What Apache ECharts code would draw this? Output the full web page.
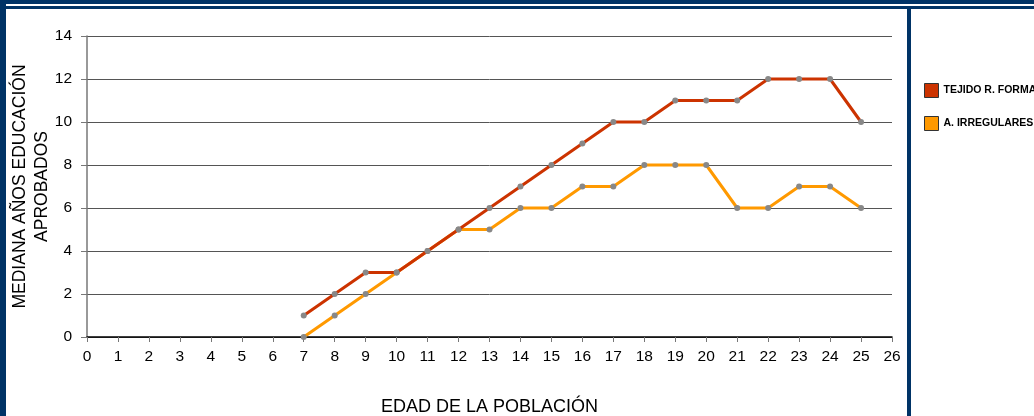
<!DOCTYPE html>
<html><head><meta charset="utf-8">
<script src="https://cdn.jsdelivr.net/npm/echarts@6/dist/echarts.min.js"></script>
<style>html,body{margin:0;padding:0;background:#fff}#c{width:1034px;height:416px}</style>
</head><body><div id="c"></div>
<script>
const ages = [7,8,9,10,11,12,13,14,15,16,17,18,19,20,21,22,23,24,25];
const formal = [1,2,3,3,4,5,6,7,8,9,10,10,11,11,11,12,12,12,10];
const irregulares = [0,1,2,3,4,5,5,6,6,7,7,8,8,8,6,6,7,7,6];
const seriesNames = ['TEJIDO R. FORMAL','A. IRREGULARES'];
const yName = 'MEDIANA AÑOS EDUCACIÓN\nAPROBADOS';
const xName = 'EDAD DE LA POBLACIÓN';

const chart = echarts.init(document.getElementById('c'));
const font = 'Liberation Sans, Arial, sans-serif';
const mk = (vals) => ages.map((a,i)=>[a, vals[i]]);
chart.setOption({
  animation:false,
  textStyle:{fontFamily:font},
  grid:{left:87, right:1034-892, top:36, bottom:416-337, containLabel:false, outerBoundsMode:'none'},
  legend:{
    orient:'vertical', left:919, top:78, itemWidth:14, itemHeight:14, itemGap:18,
    icon:'rect',
    textStyle:{fontSize:10.5, fontWeight:'bold', color:'#000', fontFamily:font},
    data:[
      {name:seriesNames[0], itemStyle:{color:'#CC3300', borderColor:'#333', borderWidth:1}},
      {name:seriesNames[1], itemStyle:{color:'#FF9900', borderColor:'#333', borderWidth:1}}
    ]
  },
  xAxis:{
    type:'value', min:0, max:26, interval:1,
    name:xName, nameLocation:'middle', nameGap:61, nameMoveOverlap:false,
    nameTextStyle:{fontSize:18, color:'#000', fontFamily:font},
    axisLine:{show:true, onZero:false, lineStyle:{color:'#000', width:1.5}},
    axisTick:{show:true, length:5, lineStyle:{color:'#777'}},
    axisLabel:{fontSize:15.5, color:'#000', margin:12},
    splitLine:{show:false}
  },
  yAxis:{
    type:'value', min:0, max:14, interval:2,
    name:yName, nameLocation:'middle', nameGap:34, nameRotate:90, nameMoveOverlap:false,
    nameTextStyle:{fontSize:17.5, color:'#000', fontFamily:font, lineHeight:22},
    axisLine:{show:true, lineStyle:{color:'#777', width:1.5}},
    axisTick:{show:true, length:6, lineStyle:{color:'#777'}},
    axisLabel:{fontSize:15.5, color:'#000', margin:15},
    splitLine:{show:true, lineStyle:{color:'#555', width:1}}
  },
  series:[
    {name:seriesNames[0], type:'line', data:mk(formal), symbol:'circle', symbolSize:6,
     lineStyle:{color:'#CC3300', width:3}, itemStyle:{color:'#888'}, z:3},
    {name:seriesNames[1], type:'line', data:mk(irregulares), symbol:'circle', symbolSize:6,
     lineStyle:{color:'#FF9900', width:3}, itemStyle:{color:'#888'}, z:2}
  ],
  graphic:[
    {type:'rect', shape:{x:0,y:0,width:1034,height:4}, style:{fill:'#003366'}},
    {type:'rect', shape:{x:0,y:6,width:1034,height:3}, style:{fill:'#003366'}},
    {type:'rect', shape:{x:0,y:0,width:6,height:416}, style:{fill:'#003366'}},
    {type:'rect', shape:{x:907,y:6,width:4,height:410}, style:{fill:'#003366'}}
  ]
});
</script></body></html>
